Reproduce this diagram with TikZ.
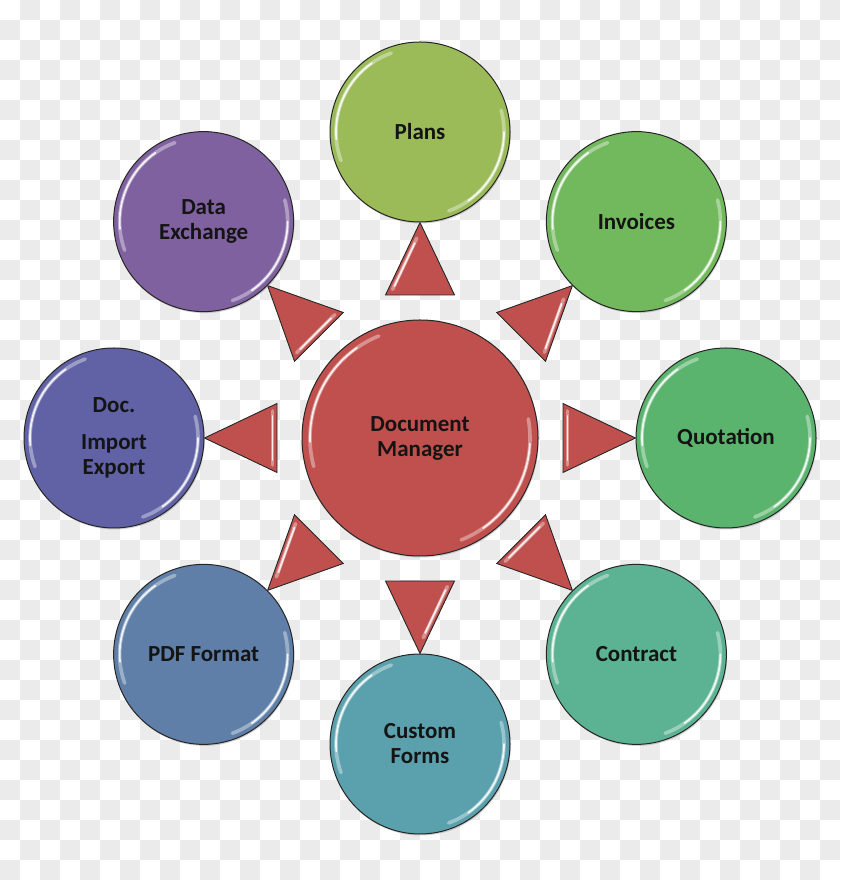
\documentclass[tikz,border=0pt]{standalone}
\usepackage{fontspec}
\setmainfont{Carlito}
\usetikzlibrary{shadows}
\definecolor{bgsq}{HTML}{EBEBEB}
\definecolor{cRed}{HTML}{C0504D}
\definecolor{cPlans}{HTML}{9BBB59}
\definecolor{cInv}{HTML}{72B85C}
\definecolor{cQuo}{HTML}{5BB46E}
\definecolor{cCon}{HTML}{5CB394}
\definecolor{cCus}{HTML}{5BA1AD}
\definecolor{cPdf}{HTML}{5F7FA8}
\definecolor{cDoc}{HTML}{6062A5}
\definecolor{cData}{HTML}{7F61A0}
\pgfdeclarelayer{bg}
\pgfdeclarelayer{mid}
\pgfsetlayers{bg,mid,main}
\begin{document}
\begin{tikzpicture}[x=1pt,y=1pt,
  label text/.style={align=center, font=\bfseries\fontsize{23}{25}\selectfont, text=black!92},
  hub/.style={circle, minimum size=236pt, inner sep=0pt, fill=cRed, draw=black!85, line width=1pt, label text,
    drop shadow={shadow xshift=0.8pt, shadow yshift=-1.5pt, opacity=0.35}},
  leaf/.style={circle, minimum size=180pt, inner sep=0pt, draw=black!85, line width=1pt, label text,
    drop shadow={shadow xshift=0.8pt, shadow yshift=-1.5pt, opacity=0.35}},
  wedge/.style={fill=cRed, draw=black!85, line width=0.9pt, line join=miter},
  shinewide/.style={draw=white, line width=3.6pt, opacity=0.38, line cap=round},
  shine/.style={draw=white, line width=1.8pt, opacity=0.85, line cap=round},
]
\useasboundingbox (0,0) rectangle (840,880);
\begin{pgfonlayer}{bg}
\fill[white] (0,0) rectangle (840,880);
\foreach \j in {0,...,43}{
  \pgfmathtruncatemacro\off{mod(\j,2)==0 ? 20 : 0}
  \foreach \i in {0,40,...,800}{
    \fill[bgsq] (\i+\off, 860-20*\j) rectangle ++(20,20);
  }
}
\end{pgfonlayer}

\coordinate (c) at (420,442);
\node[hub] (dm) at (c) {Document\\Manager};
\draw[shinewide] ([shift={(112:110)}]dm.center) arc[start angle=112, end angle=195, radius=110];
\draw[shine] ([shift={(125:110)}]dm.center) arc[start angle=125, end angle=182, radius=110];
\draw[shinewide] ([shift={(-68:110)}]dm.center) arc[start angle=-68, end angle=10, radius=110];
\draw[shine] ([shift={(-55:110)}]dm.center) arc[start angle=-55, end angle=-3, radius=110];

\foreach \a/\n/\col/\txt in {
  90/plans/cPlans/{Plans},
  45/inv/cInv/{Invoices},
  0/quo/cQuo/{Quotation},
  -45/con/cCon/{Contract},
  270/cus/cCus/{Custom\\Forms},
  225/pdf/cPdf/{PDF Format},
  180/doc/cDoc/{Doc.\\[12pt]Import\\Export},
  135/data/cData/{Data\\Exchange}}{
  \node[leaf, fill=\col] (\n) at ([shift={(\a:306)}]c) {\txt};
  \draw[shinewide] ([shift={(110:84)}]\n.center) arc[start angle=110, end angle=200, radius=84];
  \draw[shine] ([shift={(125:84)}]\n.center) arc[start angle=125, end angle=185, radius=84];
  \draw[shinewide] ([shift={(-70:84)}]\n.center) arc[start angle=-70, end angle=15, radius=84];
  \draw[shine] ([shift={(-55:84)}]\n.center) arc[start angle=-55, end angle=0, radius=84];
  \pgfmathtruncatemacro\back{mod(\a+180,360)}
  \begin{pgfonlayer}{mid}
    \draw[wedge] (\n.\back) -- ([shift={(\a+13.56:147.1)}]c) -- ([shift={(\a-13.56:147.1)}]c) -- cycle;
  \end{pgfonlayer}
}

% highlights on wedges
\begin{pgfonlayer}{mid}
\foreach \a in {135,180,0,-45}{
  \begin{scope}[shift={(c)}, rotate=\a]
    \draw[shinewide] (147.5,27) -- (147.5,-27);
    \draw[shine] (147.5,22) -- (147.5,-22);
  \end{scope}
}
\foreach \a in {90,270}{
  \begin{scope}[shift={(c)}, rotate=\a]
    \draw[shinewide] (148.6,27.4) -- (199.7,3.3);
    \draw[shine] (152,25.5) -- (195,5.2);
  \end{scope}
}
\foreach \a in {45,225}{
  \begin{scope}[shift={(c)}, rotate=\a]
    \draw[shinewide] (148.6,-27.4) -- (199.7,-3.3);
    \draw[shine] (152,-25.5) -- (195,-5.2);
  \end{scope}
}
\end{pgfonlayer}
\end{tikzpicture}
\end{document}
